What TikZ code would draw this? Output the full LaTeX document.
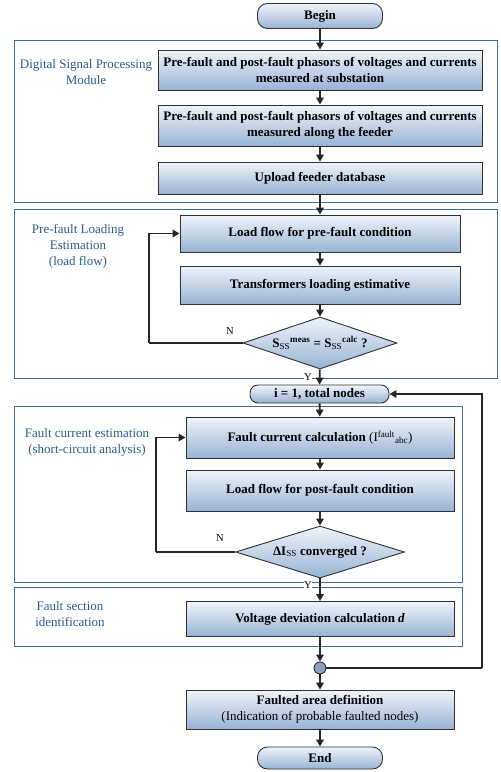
\documentclass[tikz,border=0pt]{standalone}
\usepackage{fontspec}
\setmainfont{Liberation Serif}
\usetikzlibrary{shapes.geometric,arrows.meta}
\definecolor{frameblue}{HTML}{3F6E9E}
\definecolor{labelblue}{HTML}{2A5A8E}
\definecolor{boxtop}{HTML}{F0F4FA}
\definecolor{boxbot}{HTML}{98B3D4}
\definecolor{edge}{HTML}{303030}
\tikzset{
  procbox/.style={draw=edge, line width=0.9pt, top color=boxtop, bottom color=boxbot, inner sep=0pt, align=center, font=\fontsize{13}{16}\selectfont\bfseries},
  termbox/.style={draw=edge, line width=0.9pt, top color=boxtop, bottom color=boxbot, rounded corners=10pt, inner sep=0pt, font=\fontsize{13}{16}\selectfont\bfseries},
  decbox/.style={diamond, draw=edge, line width=0.9pt, top color=boxtop, bottom color=boxbot, inner sep=0pt, aspect=3, font=\fontsize{13}{16}\selectfont\bfseries},
  modframe/.style={draw=frameblue, line width=0.9pt},
  modlabel/.style={text=labelblue, align=center, font=\fontsize{13}{16}\selectfont},
  flow/.style={draw=black!85, line width=1.8pt, -{Triangle[length=7pt,width=7.5pt]}},
  loopline/.style={draw=black!85, line width=1.8pt},
  small/.style={font=\fontsize{10.5}{12}\selectfont, inner sep=1pt}
}
\begin{document}
\begin{tikzpicture}[x=1pt,y=-1pt]
\useasboundingbox (0,0) rectangle (501,772);
% module frames
\draw[modframe] (14,40) rectangle (497,202);
\draw[modframe] (14,209) rectangle (497,378);
\draw[modframe] (14,406) rectangle (462,582);
\draw[modframe] (14,587) rectangle (462,646);
% module labels
\node[modlabel] (m1) at (86,72) {Digital Signal Processing\\Module};
\node[modlabel] (m2) at (78,246) {Pre-fault Loading\\Estimation\\(load flow)};
\node[modlabel] (m3) at (87,442) {Fault current estimation\\(short-circuit analysis)};
\node[modlabel] (m4) at (70,614) {Fault section\\identification};
% nodes
\node[termbox, minimum width=125pt, minimum height=25pt] (begin) at (320,16) {Begin};
\node[procbox, minimum width=324pt, minimum height=40pt] (b1) at (320,70) {Pre-fault and post-fault phasors of voltages and currents\\measured at substation};
\node[procbox, minimum width=324pt, minimum height=41pt] (b2) at (320,125.5) {Pre-fault and post-fault phasors of voltages and currents\\measured along the feeder};
\node[procbox, minimum width=324pt, minimum height=32pt] (b3) at (320,178) {Upload feeder database};
\node[procbox, minimum width=280pt, minimum height=37pt] (b4) at (320,233.5) {Load flow for pre-fault condition};
\node[procbox, minimum width=280pt, minimum height=38pt] (b5) at (320,285) {Transformers loading estimative};
\node[decbox, minimum width=154pt, minimum height=52pt] (d1) at (320,343) {S\textsubscript{\mdseries SS}\textsuperscript{meas} = S\textsubscript{\mdseries SS}\textsuperscript{calc} ?};
\node[termbox, minimum width=139pt, minimum height=18pt, rounded corners=8pt] (t2) at (319.5,394) {i = 1, total nodes};
\node[procbox, minimum width=268pt, minimum height=41pt] (b6) at (320,437.5) {Fault current calculation {\mdseries(I\textsuperscript{fault}\textsubscript{abc})}};
\node[procbox, minimum width=268pt, minimum height=41pt] (b7) at (320,490.5) {Load flow for post-fault condition};
\node[decbox, minimum width=169pt, minimum height=52pt] (d2) at (320,552) {ΔI\textsubscript{\mdseries SS} converged ?};
\node[procbox, minimum width=268pt, minimum height=35pt] (b8) at (320,619) {Voltage deviation calculation \textit{d}};
\node[circle, draw=edge, line width=0.9pt, fill=boxbot!90!black, minimum size=12pt, inner sep=0pt] (c1) at (320,668) {};
\node[procbox, minimum width=268pt, minimum height=39pt] (b9) at (320,709.5) {Faulted area definition\\{\mdseries (Indication of probable faulted nodes)}};
\node[termbox, minimum width=125pt, minimum height=22pt] (end) at (320,758) {End};
% helper coordinates
\coordinate (l1) at (149,343);
\coordinate (l2) at (156,552);
\coordinate (r1) at (482,668);
% connectors
\draw[flow] (begin) -- (b1);
\draw[flow] (b1) -- (b2);
\draw[flow] (b2) -- (b3);
\draw[flow] (b3) -- (b4);
\draw[flow] (b4) -- (b5);
\draw[flow] (b5) -- (d1);
\draw[flow] (d1) -- (t2);
\draw[flow] (t2) -- (b6);
\draw[flow] (b6) -- (b7);
\draw[flow] (b7) -- (d2);
\draw[flow] (d2) -- (b8);
\draw[flow] (b8) -- (c1);
\draw[flow] (c1) -- (b9);
\draw[flow] (b9) -- (end);
\draw[loopline] (d1.west) -- (l1);
\draw[flow] (l1) |- (b4.west);
\draw[loopline] (d2.west) -- (l2);
\draw[flow] (l2) |- (b6.west);
\draw[loopline] (c1.east) -- (r1);
\draw[flow] (r1) |- (t2.east);
% labels
\node[small] (n1) at (230,331) {N};
\node[small] (n2) at (220,538) {N};
\node[small, fill=white, inner sep=0.5pt] (y1) at (308,377) {Y};
\node[small, fill=white, inner sep=0.2pt] (y2) at (308,585) {Y};
\end{tikzpicture}
\end{document}
